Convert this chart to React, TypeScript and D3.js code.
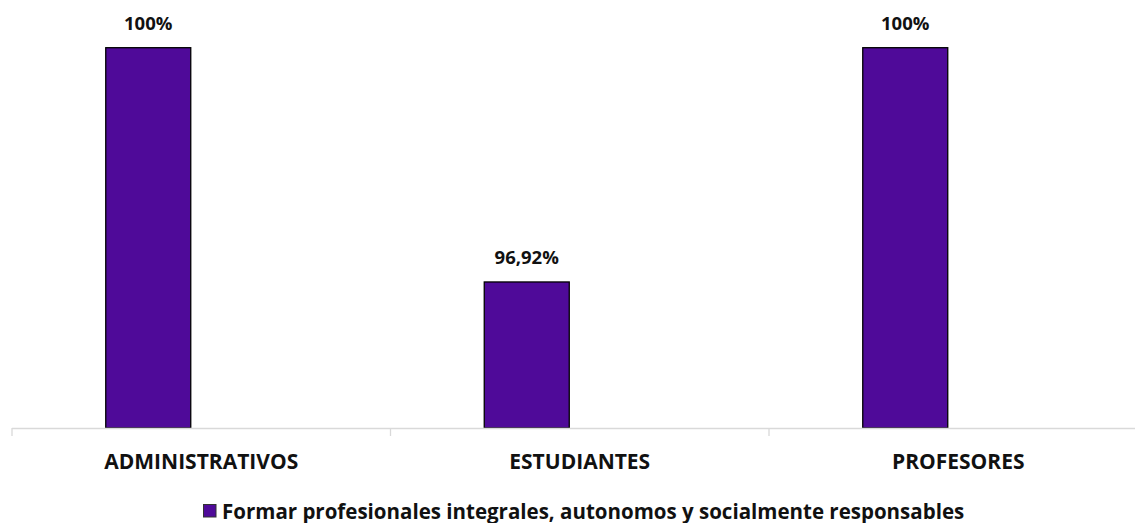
import React from "react";
import * as d3 from "d3";

const categories = ["ADMINISTRATIVOS", "ESTUDIANTES", "PROFESORES"];
const values = [100, 96.92, 100];
const valueLabels = ["100%", "96,92%", "100%"];
const seriesName = "Formar profesionales integrales, autonomos y socialmente responsables";
const yDomain = [95, 100];

export default function App() {
  const W = 1135, H = 523;
  const x0 = 12, step = 378.5;
  const x = d3.scaleBand<string>().domain(categories).range([x0, x0 + step * categories.length]);
  const y = d3.scaleLinear().domain(yDomain).range([428, 47.7]);
  const font = "'Open Sans', sans-serif";
  const color = "#4F0A99";
  const barW = 85;
  const barOffset = -53; // bar center relative to category center
  return (
    <svg width={W} height={H} style={{ position: "absolute", left: 0, top: 0 }}>
      <rect width={W} height={H} fill="#fff" />
      {categories.map((c, i) => {
        const cx = x(c)! + x.bandwidth() / 2;
        const bx = cx + barOffset;
        return (
          <g key={c}>
            <rect x={bx - barW / 2} y={y(values[i])} width={barW} height={428 - y(values[i])} fill={color} stroke="#000" strokeWidth={1.3} />
            <text x={bx} y={y(values[i]) - 17.5} textAnchor="middle" fontFamily={font} fontWeight="bold" fontSize={18.5} fill="#111">{valueLabels[i]}</text>
            <text x={cx} y={469} textAnchor="middle" fontFamily={font} fontWeight="bold" fontSize={21} fill="#111">{c}</text>
          </g>
        );
      })}
      <line x1={x0} x2={W + 20} y1={428.5} y2={428.5} stroke="#d9d9d9" strokeWidth={1.3} />
      {d3.range(categories.length + 1).map((i) => (
        <line key={i} x1={x0 + i * step} x2={x0 + i * step} y1={428} y2={436} stroke="#d9d9d9" strokeWidth={1.3} />
      ))}
      <rect x={203.5} y={504.5} width={12.5} height={12.5} fill={color} stroke="#333" strokeWidth={1} />
      <text x={222} y={518.5} fontFamily={font} fontWeight="bold" fontSize={20.5} fill="#111">{seriesName}</text>
    </svg>
  );
}
